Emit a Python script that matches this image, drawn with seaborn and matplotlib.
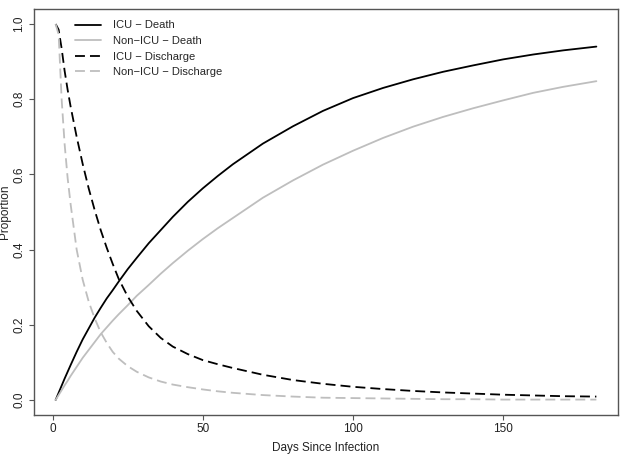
import matplotlib
matplotlib.use("Agg")
import matplotlib.pyplot as plt
import seaborn as sns
import pandas as pd

days = [1, 2, 3, 4, 5, 6, 8, 10, 12, 14, 16, 18, 20, 22, 25, 28, 32, 36, 40,
        45, 50, 55, 60, 70, 80, 90, 100, 110, 120, 130, 140, 150, 160, 170, 181]

icu_death = [0.000, 0.019, 0.038, 0.057, 0.075, 0.093, 0.128, 0.161, 0.190, 0.219,
             0.245, 0.270, 0.292, 0.315, 0.348, 0.378, 0.417, 0.452, 0.487, 0.527,
             0.563, 0.596, 0.627, 0.682, 0.728, 0.769, 0.803, 0.830, 0.853, 0.873,
             0.890, 0.906, 0.919, 0.930, 0.940]

nonicu_death = [0.000, 0.013, 0.026, 0.039, 0.051, 0.064, 0.088, 0.112, 0.133, 0.154,
                0.175, 0.193, 0.211, 0.228, 0.252, 0.277, 0.306, 0.336, 0.364, 0.397,
                0.428, 0.457, 0.484, 0.538, 0.584, 0.626, 0.663, 0.697, 0.727, 0.753,
                0.776, 0.797, 0.817, 0.833, 0.848]

icu_discharge = [1.000, 0.985, 0.935, 0.875, 0.825, 0.780, 0.700, 0.628, 0.563, 0.505,
                 0.452, 0.405, 0.362, 0.322, 0.275, 0.237, 0.196, 0.165, 0.142, 0.122,
                 0.106, 0.095, 0.085, 0.067, 0.053, 0.043, 0.035, 0.029, 0.024, 0.020,
                 0.017, 0.014, 0.012, 0.010, 0.009]

nonicu_discharge = [1.000, 0.972, 0.800, 0.680, 0.590, 0.520, 0.400, 0.320, 0.262, 0.217,
                    0.180, 0.152, 0.128, 0.110, 0.090, 0.075, 0.060, 0.049, 0.041, 0.034,
                    0.028, 0.023, 0.019, 0.013, 0.009, 0.006, 0.005, 0.004, 0.003, 0.002,
                    0.002, 0.001, 0.001, 0.001, 0.001]

series_names = ["ICU \u2212 Death", "Non\u2212ICU \u2212 Death",
                "ICU \u2212 Discharge", "Non\u2212ICU \u2212 Discharge"]
x_ticks = [0, 50, 100, 150]
y_ticks = [0.0, 0.2, 0.4, 0.6, 0.8, 1.0]

sns.set_theme(style="ticks")
plt.rcParams["font.family"] = ["Liberation Sans", "DejaVu Sans"]

W, H = 621, 455
fig = plt.figure(figsize=(W / 100, H / 100), dpi=100)
ax = fig.add_axes([34 / W, 40 / H, 584 / W, 406 / H])

dash = (0, (5.5, 2.8))
styles = {
    series_names[0]: ("black", "-"),
    series_names[1]: ("#bebebe", "-"),
    series_names[2]: ("black", dash),
    series_names[3]: ("#bebebe", dash),
}
values = [icu_death, nonicu_death, icu_discharge, nonicu_discharge]

for name, vals in zip(series_names, values):
    df = pd.DataFrame({"Days": days, "Proportion": vals})
    color, ls = styles[name]
    sns.lineplot(data=df, x="Days", y="Proportion", ax=ax, color=color,
                 linestyle=ls, linewidth=1.3, label=name, errorbar=None)

ax.set_xlim(-6.2, 188.2)
ax.set_ylim(-0.04, 1.04)
ax.set_xticks(x_ticks)
ax.set_xticklabels([str(t) for t in x_ticks])
ax.set_yticks(y_ticks)
ax.set_yticklabels([f"{t:.1f}" for t in y_ticks])

for s in ax.spines.values():
    s.set_visible(True)
    s.set_color("#555555")
    s.set_linewidth(1.0)

ax.tick_params(axis="both", direction="out", length=3.6, width=0.8,
               color="#555555", labelsize=8.5, labelcolor="#222222")
ax.tick_params(axis="x", pad=2.5)
ax.tick_params(axis="y", pad=2.5, labelrotation=90)
for t in ax.get_yticklabels():
    t.set_va("center")

ax.set_xlabel("Days Since Infection", fontsize=8.5, color="#222222", labelpad=5)
ax.set_ylabel("Proportion", fontsize=8.5, color="#222222")
ax.yaxis.set_label_coords(-0.04, 0.5)

ax.legend(loc="upper left", bbox_to_anchor=(75 / W, 1 - 20.5 / H),
          bbox_transform=fig.transFigure, frameon=False, fontsize=8,
          handlelength=2.3, handletextpad=1.1, labelspacing=0.5,
          borderpad=0, borderaxespad=0)

fig.savefig("out.png", dpi=100)
